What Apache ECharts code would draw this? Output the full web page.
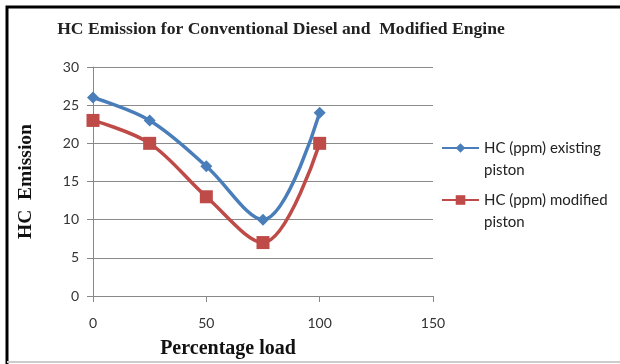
<!DOCTYPE html>
<html><head><meta charset="utf-8">
<script src="https://cdn.jsdelivr.net/npm/echarts@6/dist/echarts.min.js"></script>
<style>html,body{margin:0;padding:0;background:#fff}#c{width:620px;height:364px}</style>
</head><body><div id="c"></div>
<script>
const loads = [0, 25, 50, 75, 100];
const existingPiston = [26, 23, 17, 10, 24];
const modifiedPiston = [23, 20, 13, 7, 20];
const seriesNames = ['HC (ppm) existing piston', 'HC (ppm) modified piston'];
const titleText = 'HC Emission for Conventional Diesel and  Modified Engine';
const xName = 'Percentage load';
const yName = 'HC  Emission';

const chart = echarts.init(document.getElementById('c'), null, {renderer:'canvas'});
const serif = '"Liberation Serif", "DejaVu Serif", serif';
const sans = 'Lato, "Open Sans", sans-serif';
chart.setOption({
  animation:false,
  backgroundColor:'#fff',
  title:{text:titleText, left:276, textAlign:'center', top:15,
    textStyle:{fontFamily:serif, fontWeight:'bold', fontSize:17.6, color:'#222'}},
  grid:{left:93, right:187, top:67, bottom:68},
  legend:{orient:'vertical', left:436, top:110, itemWidth:37, itemHeight:12, itemGap:-14,
    data:seriesNames,
    formatter:n=>'\n'+n.replace(' piston','\npiston'),
    textStyle:{fontFamily:sans, fontSize:15, color:'#222', lineHeight:22}},
  xAxis:{type:'value', min:0, max:150, interval:50,
    name:xName, nameLocation:'middle', nameGap:43,
    nameTextStyle:{fontFamily:serif, fontWeight:'bold', fontSize:20, color:'#111', padding:[0,70,0,0]},
    axisLine:{lineStyle:{color:'#888'}}, axisTick:{length:6, lineStyle:{color:'#888'}},
    splitLine:{show:false},
    axisLabel:{fontFamily:sans, fontSize:14, color:'#333', margin:20}},
  yAxis:{type:'value', min:0, max:30, interval:5,
    name:yName, nameLocation:'middle', nameGap:57,
    nameTextStyle:{fontFamily:serif, fontWeight:'bold', fontSize:19.5, color:'#111'},
    axisLine:{show:true, lineStyle:{color:'#888'}}, axisTick:{show:true, length:6, lineStyle:{color:'#888'}},
    splitLine:{lineStyle:{color:'#8a8a8a'}},
    axisLabel:{fontFamily:sans, fontSize:14, color:'#333', margin:14}},
  series:[
    {name:seriesNames[0], type:'line', smooth:0.35, data:loads.map((x,i)=>[x,existingPiston[i]]),
     symbol:'diamond', symbolSize:12, color:'#4a7ebb', lineStyle:{width:3.5, color:'#4a7ebb'},
     itemStyle:{color:'#4a7ebb'}},
    {name:seriesNames[1], type:'line', smooth:0.35, data:loads.map((x,i)=>[x,modifiedPiston[i]]),
     symbol:'rect', symbolSize:13, color:'#be4b48', lineStyle:{width:3.5, color:'#be4b48'},
     itemStyle:{color:'#be4b48'}}
  ],
  graphic:[
    {type:'polyline', shape:{points:[[7,364],[7,7],[620,7]]}, style:{stroke:'#000', lineWidth:3, fill:null}},
    {type:'line', shape:{x1:7,y1:362,x2:620,y2:362}, style:{stroke:'#ccc', lineWidth:2}}
  ]
});
</script></body></html>
